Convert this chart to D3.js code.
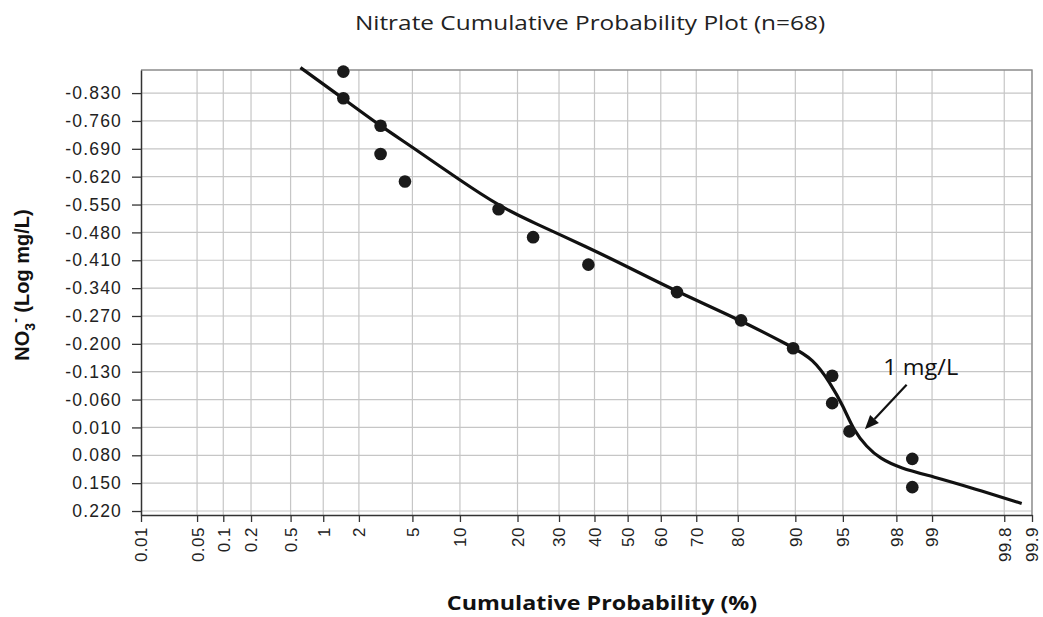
<!DOCTYPE html>
<html>
<head>
<meta charset="utf-8">
<script src="https://cdn.jsdelivr.net/npm/d3@7"></script>
<style>
  body { margin: 0; background: #fff; }
  svg { display: block; }
</style>
</head>
<body>
<svg width="1043" height="617"></svg>
<script>
// probability axis ticks (%)
var probTicks = [0.01, 0.05, 0.1, 0.2, 0.5, 1, 2, 5, 10, 20, 30, 40, 50, 60, 70, 80, 90, 95, 98, 99, 99.8, 99.9];
// log concentration ticks
var yTicks = [-0.83, -0.76, -0.69, -0.62, -0.55, -0.48, -0.41, -0.34, -0.27, -0.20, -0.13, -0.06, 0.01, 0.08, 0.15, 0.22];

// observed samples
var pointProb = [1.49, 1.49, 2.95, 2.95, 4.44, 16.2, 23.5, 38.2, 64.7, 80.7, 89.7, 94.1, 94.1, 95.5, 98.52, 98.52];
var pointVal  = [-0.884, -0.817, -0.748, -0.677, -0.608, -0.538, -0.468, -0.399, -0.330, -0.259, -0.189, -0.120, -0.051, 0.020, 0.089, 0.160];

// hand-fitted curve
var fitProb = [0.62, 1.46, 2.95, 5.01, 10.08, 16.23, 22.88, 29.9, 41.8, 51.8, 64.7, 80.5, 89.5, 92.2, 93.9, 95.04, 95.77, 96.61, 97.31, 98.13, 99.03, 99.587, 99.87];
var fitVal  = [-0.894, -0.818, -0.747, -0.694, -0.610, -0.547, -0.508, -0.476, -0.427, -0.386, -0.331, -0.260, -0.193, -0.162, -0.103, -0.043, 0.016, 0.059, 0.088, 0.112, 0.134, 0.163, 0.201];

// annotation
var noteText = "1 mg/L";
var noteAt = [97.46, -0.122];
var arrowFrom = [98.35, -0.097];
var arrowTo = [96.51, 0.0144];

// inverse normal cdf (Acklam)
function probit(p) {
  var a = [-3.969683028665376e+01, 2.209460984245205e+02, -2.759285104469687e+02, 1.383577518672690e+02, -3.066479806614716e+01, 2.506628277459239e+00];
  var b = [-5.447609879822406e+01, 1.615858368580409e+02, -1.556989798598866e+02, 6.680131188771972e+01, -1.328068155288572e+01];
  var c = [-7.784894002430293e-03, -3.223964580411365e-01, -2.400758277161838e+00, -2.549732539343734e+00, 4.374664141464968e+00, 2.938163982698783e+00];
  var d = [7.784695709041462e-03, 3.224671290700398e-01, 2.445134137142996e+00, 3.754408661907416e+00];
  var pl = 0.02425, q, r;
  if (p < pl) {
    q = Math.sqrt(-2 * Math.log(p));
    return (((((c[0]*q+c[1])*q+c[2])*q+c[3])*q+c[4])*q+c[5]) / ((((d[0]*q+d[1])*q+d[2])*q+d[3])*q+1);
  }
  if (p > 1 - pl) {
    q = Math.sqrt(-2 * Math.log(1 - p));
    return -(((((c[0]*q+c[1])*q+c[2])*q+c[3])*q+c[4])*q+c[5]) / ((((d[0]*q+d[1])*q+d[2])*q+d[3])*q+1);
  }
  q = p - 0.5; r = q * q;
  return (((((a[0]*r+a[1])*r+a[2])*r+a[3])*r+a[4])*r+a[5])*q / (((((b[0]*r+b[1])*r+b[2])*r+b[3])*r+b[4])*r+1);
}

var pLeft = 141, pRight = 1032, pTop = 70, pBottom = 515;
var svg = d3.select("svg");

var z = d3.scaleLinear().domain([probit(0.0001), probit(0.999)]).range([pLeft, pRight]);
var x = function(p) { return z(probit(p / 100)); };
var y = d3.scaleLinear().domain([-0.888, 0.23]).range([pTop, pBottom]);

// grid
svg.append("g").selectAll("line").data(yTicks).enter().append("line")
    .attr("x1", pLeft).attr("x2", pRight)
    .attr("y1", function(d) { return y(d); }).attr("y2", function(d) { return y(d); })
    .attr("stroke", "#c6c6c6").attr("stroke-width", 1.2);
svg.append("g").selectAll("line").data(probTicks.slice(1)).enter().append("line")
    .attr("x1", function(d) { return x(d); }).attr("x2", function(d) { return x(d); })
    .attr("y1", pTop).attr("y2", pBottom)
    .attr("stroke", "#c6c6c6").attr("stroke-width", 1.2);

// frame top/right
svg.append("path")
    .attr("d", "M" + pLeft + "," + pTop + "H" + pRight + "V" + pBottom)
    .attr("fill", "none").attr("stroke", "#8c8c8c").attr("stroke-width", 1.3);

// x axis
var xAxis = svg.append("g")
    .attr("transform", "translate(0," + pBottom + ")")
    .call(d3.axisBottom(z)
        .tickValues(probTicks.map(function(p) { return probit(p / 100); }))
        .tickFormat(function(d, i) { return String(probTicks[i]); })
        .tickSize(7).tickSizeOuter(0));
xAxis.select(".domain").attr("stroke", "#333").attr("stroke-width", 1.5);
xAxis.selectAll(".tick line").attr("stroke", "#333").attr("stroke-width", 1.3);
xAxis.selectAll("text")
    .attr("transform", "rotate(-90)")
    .attr("text-anchor", "end")
    .attr("x", -12).attr("y", 0).attr("dy", "0.35em")
    .attr("font-family", "Liberation Sans, Arial, sans-serif")
    .attr("font-size", 17).attr("letter-spacing", 0.5)
    .attr("fill", "#222");

// y axis
var yAxis = svg.append("g")
    .attr("transform", "translate(" + pLeft + ",0)")
    .call(d3.axisLeft(y)
        .tickValues(yTicks)
        .tickFormat(function(d) { return d3.format(".3f")(d).replace("\u2212", "-"); })
        .tickSize(9).tickSizeOuter(0));
yAxis.select(".domain").attr("stroke", "#333").attr("stroke-width", 1.5);
yAxis.selectAll(".tick line").attr("stroke", "#333").attr("stroke-width", 1.3);
yAxis.selectAll("text")
    .attr("x", -19)
    .attr("font-family", "Liberation Sans, Arial, sans-serif")
    .attr("font-size", 17.5).attr("letter-spacing", 1.2)
    .attr("fill", "#222");

// fitted curve
var fit = fitProb.map(function(p, i) { return [x(p), y(fitVal[i])]; });
svg.append("path")
    .attr("d", d3.line().curve(d3.curveBasis)(fit))
    .attr("fill", "none").attr("stroke", "#111").attr("stroke-width", 3.2);

// points
svg.append("g").selectAll("circle").data(pointProb).enter().append("circle")
    .attr("cx", function(d) { return x(d); })
    .attr("cy", function(d, i) { return y(pointVal[i]); })
    .attr("r", 6.3)
    .attr("fill", "#1a1a1a");

// arrow annotation
var ax1 = x(arrowFrom[0]), ay1 = y(arrowFrom[1]);
var ax2 = x(arrowTo[0]), ay2 = y(arrowTo[1]);
var ang = Math.atan2(ay2 - ay1, ax2 - ax1);
var hl = 14, hw = 6;
var bx = ax2 - hl * Math.cos(ang), by = ay2 - hl * Math.sin(ang);
svg.append("line")
    .attr("x1", ax1).attr("y1", ay1).attr("x2", bx).attr("y2", by)
    .attr("stroke", "#111").attr("stroke-width", 2.2);
svg.append("path")
    .attr("d", "M" + ax2 + "," + ay2 +
        "L" + (bx + hw * Math.sin(ang)) + "," + (by - hw * Math.cos(ang)) +
        "L" + (bx - hw * Math.sin(ang)) + "," + (by + hw * Math.cos(ang)) + "Z")
    .attr("fill", "#111");
svg.append("text")
    .attr("transform", "translate(" + x(noteAt[0]) + "," + y(noteAt[1]) + ") scale(1.12,1)")
    .attr("font-family", "Open Sans, sans-serif").attr("font-size", 21)
    .attr("fill", "#111")
    .text(noteText);

// titles
svg.append("text")
    .attr("transform", "translate(590,30) scale(1.22,1)")
    .attr("text-anchor", "middle")
    .attr("font-family", "Open Sans, sans-serif").attr("font-size", 20)
    .attr("fill", "#222")
    .text("Nitrate Cumulative Probability Plot (n=68)");

svg.append("text")
    .attr("transform", "translate(602,610) scale(1.165,1)")
    .attr("text-anchor", "middle")
    .attr("font-family", "Open Sans, sans-serif").attr("font-size", 20)
    .attr("font-weight", "bold")
    .attr("fill", "#111")
    .text("Cumulative Probability (%)");

var yl = svg.append("text")
    .attr("transform", "translate(29,285) rotate(-90)")
    .attr("text-anchor", "middle")
    .attr("font-family", "Liberation Sans, Arial, sans-serif").attr("font-size", 20)
    .attr("font-weight", "bold")
    .attr("fill", "#111");
yl.append("tspan").text("NO");
yl.append("tspan").attr("font-size", 14).attr("dy", 6).text("3");
yl.append("tspan").attr("font-size", 14).attr("dy", -15).text("-");
yl.append("tspan").attr("dy", 9).text(" (Log mg/L)");
</script>
</body>
</html>
